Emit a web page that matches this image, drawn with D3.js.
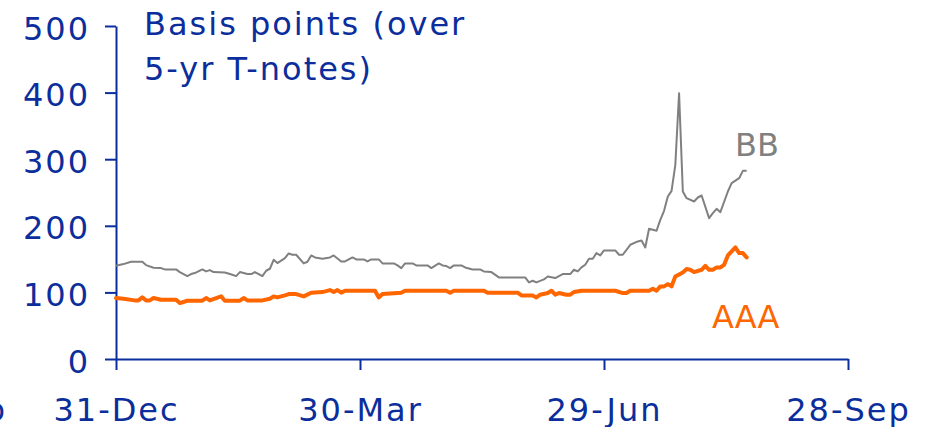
<!DOCTYPE html>
<html>
<head>
<meta charset="utf-8">
<script src="https://cdn.jsdelivr.net/npm/d3@7"></script>
<style>
  body { margin: 0; background: #fff; }
  svg { display: block; font-family: "DejaVu Sans", Verdana, sans-serif; }
</style>
</head>
<body>
<div id="chart"></div>
<script>
// datos: dias habiles desde el 31-Dec, spreads en puntos base
const tickDays = [0, 65, 130, 195]
const tickLabels = ["31-Dec", "30-Mar", "29-Jun", "28-Sep"]
const yTicks = [0, 100, 200, 300, 400, 500]

const bbDays = [0, 2, 4, 7, 8, 10, 12, 13, 16, 17, 19, 20, 21, 23, 24, 25, 26, 29, 31, 32,
  33, 35, 36, 37, 39, 40, 41, 42, 43, 45, 46, 47, 48, 50, 51, 52, 53, 55, 57, 58,
  60, 61, 63, 64, 66, 67, 68, 70, 71, 74, 75, 76, 77, 79, 80, 83, 84, 86, 87, 88,
  89, 90, 92, 93, 95, 97, 98, 100, 102, 105, 109, 110, 111, 112, 114, 115, 117, 119, 121, 122,
  123, 124, 125, 126, 127, 128, 129, 130, 133, 134, 135, 137, 139, 140, 141, 142, 144, 145, 146, 147,
  148, 149, 150, 151, 152, 154, 155, 156, 158, 159, 160, 161, 163, 164, 166, 167, 168]
const bbValues = [140, 142.5, 146, 146, 141, 137, 136.5, 134.5, 134.5, 130.5, 124.5, 127.5, 129, 134.5, 131.5, 133.5, 130.5, 130, 126.5, 124.5,
  130.5, 127.5, 127.5, 130.5, 124.5, 132.5, 135.5, 149, 144, 151.5, 158.5, 156.5, 156.5, 143.5, 146, 155.5, 152.5, 150.5, 152.5, 155.5,
  146.5, 146.5, 152.5, 149.5, 149.5, 146.5, 149.5, 149.5, 143.5, 143.5, 140.5, 136.5, 143.5, 143.5, 140.5, 140.5, 136.5, 143.5, 140.5, 139.5,
  136.5, 140.5, 140.5, 137.5, 134.5, 134.5, 131.5, 130.5, 122.5, 122.5, 122.5, 115, 117.5, 115, 119.5, 124, 121.5, 127.5, 127.5, 134,
  131.5, 137.5, 141.5, 150.5, 150.5, 159, 155.5, 163, 163, 156.5, 156.5, 171.5, 176.5, 178, 167.5, 195.5, 192.5, 209, 222.5, 244,
  252.5, 291.5, 399, 251.5, 241.5, 236.5, 242.5, 245.5, 211.5, 219, 225.5, 220.5, 251.5, 264, 271.5, 282.5, 282.5]

const aaaDays = [0, 2, 5, 6, 7, 8, 9, 10, 12, 16, 17, 19, 23, 24, 25, 28, 29, 33, 34, 35,
  39, 41, 42, 43, 45, 46, 48, 50, 52, 55, 57, 58, 59, 60, 61, 69, 70, 71, 76, 77,
  88, 89, 90, 98, 99, 107, 108, 111, 112, 113, 115, 116, 117, 118, 120, 121, 122, 124, 133, 135,
  136, 137, 142, 143, 144, 145, 146, 147, 148, 149, 151, 152, 153, 154, 156, 157, 158, 159, 160, 161,
  162, 163, 165, 166, 167, 168]
const aaaValues = [91.5, 90.5, 88, 88, 92.5, 88, 88, 91.5, 89, 89, 84, 87.5, 87.5, 91.5, 88, 94, 87.5, 87.5, 91.5, 88,
  88, 90.5, 94, 92.5, 95.5, 97.5, 97.5, 94, 99.5, 100.5, 103.5, 100.5, 103.5, 99.5, 102.5, 102.5, 92.5, 97.5, 99.5, 102.5,
  102.5, 99.5, 102.5, 102.5, 99.5, 99.5, 95.5, 95.5, 92.5, 96.5, 99, 102.5, 96.5, 99, 96.5, 96.5, 100.5, 102.5, 102.5, 99,
  99, 102.5, 102.5, 105.5, 102.5, 109, 109, 112.5, 109, 124, 130, 135, 134, 130.5, 134, 140, 134, 134, 137.5, 137.5,
  141.5, 155.5, 167.5, 159, 159, 152.5]

const azul = "#0b2e9c"
const ancho = 926, alto = 427

const svg = d3.select("#chart")
  .append("svg")
  .attr("width", ancho)
  .attr("height", alto)

const x = d3.scaleLinear().domain([0, 195]).range([116, 848])
const y = d3.scaleLinear().domain([0, 500]).range([359, 26])

// eje Y
const ejeY = svg.append("g")
  .attr("transform", "translate(116,0)")
  .call(d3.axisLeft(y).tickValues(yTicks).tickSize(11).tickSizeOuter(0).tickPadding(15))
ejeY.select(".domain").attr("stroke", azul).attr("stroke-width", 2)
ejeY.selectAll(".tick line").attr("stroke", azul).attr("stroke-width", 2)
ejeY.selectAll(".tick text")
  .attr("dy", 13)
  .attr("fill", azul)
  .style("font-size", "32px")
  .style("letter-spacing", "2px")
  .style("font-family", "DejaVu Sans")

// eje X
const ejeX = svg.append("g")
  .attr("transform", "translate(0,359)")
  .call(d3.axisBottom(x).tickValues(tickDays).tickSize(11).tickSizeOuter(0)
    .tickFormat((d, i) => tickLabels[i]))
ejeX.select(".domain").attr("stroke", azul).attr("stroke-width", 2)
ejeX.selectAll(".tick line").attr("stroke", azul).attr("stroke-width", 2)
ejeX.selectAll(".tick text")
  .attr("y", 62)
  .attr("dy", 0)
  .attr("fill", azul)
  .style("font-size", "32px")
  .style("letter-spacing", "2px")
  .style("font-family", "DejaVu Sans")

// resto de una etiqueta cortada a la izquierda
svg.append("text")
  .attr("x", 5).attr("y", 421)
  .attr("text-anchor", "end")
  .attr("fill", azul)
  .style("font-size", "32px")
  .text("p")

// lineas
const linea = d3.line()
  .x(d => x(d[0]))
  .y(d => y(d[1]))

svg.append("path")
  .datum(d3.zip(bbDays, bbValues))
  .attr("d", linea)
  .attr("fill", "none")
  .attr("stroke", "#808080")
  .attr("stroke-width", 2)
  .attr("stroke-linejoin", "round")

svg.append("path")
  .datum(d3.zip(aaaDays, aaaValues))
  .attr("d", linea)
  .attr("fill", "none")
  .attr("stroke", "#ff6600")
  .attr("stroke-width", 4)
  .attr("stroke-linejoin", "round")
  .attr("stroke-linecap", "round")

// titulo
const titulo = svg.append("text")
  .attr("fill", azul)
  .style("font-size", "32px")
  .style("letter-spacing", "2px")
titulo.append("tspan").attr("x", 144).attr("y", 35).text("Basis points (over")
titulo.append("tspan").attr("x", 144).attr("y", 80).text("5-yr T-notes)")

// etiquetas de series
svg.append("text")
  .attr("x", 735).attr("y", 156)
  .attr("fill", "#808080")
  .style("font-size", "32px")
  .text("BB")

svg.append("text")
  .attr("x", 712).attr("y", 328)
  .attr("fill", "#ff6600")
  .style("font-size", "32px")
  .text("AAA")
</script>
</body>
</html>
